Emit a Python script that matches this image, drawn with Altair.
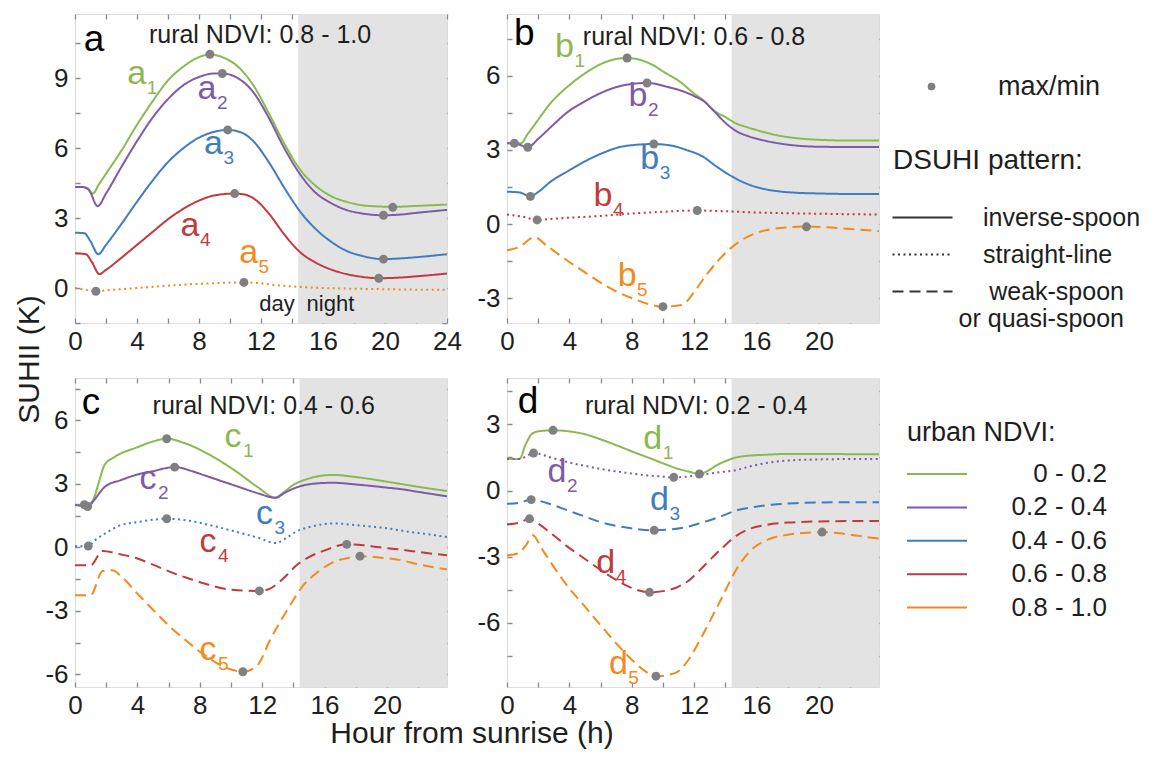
import altair as alt
import pandas as pd

FONT = "Liberation Sans"
INK = "#1e1e1e"
FRAME = "#8a8a8a"
DOT = "#808080"
SHADE = "#e3e3e3"

PW, PH = 372, 309
NIGHT_START = 14.4

NDVI_CLASSES = ["0 - 0.2", "0.2 - 0.4", "0.4 - 0.6", "0.6 - 0.8", "0.8 - 1.0"]
NDVI_COLORS = ["#8cb850", "#7d5ba6", "#3f7cc0", "#c2393e", "#f28a1c"]
PATTERNS = ["inverse-spoon", "straight-line", "weak-spoon or quasi-spoon"]
DASHES = [[1, 0], [2, 3.5], [11, 6]]
SOLID, DOTTED, DASHED = PATTERNS

# ---------------- panel a : rural NDVI 0.8 - 1.0 ----------------
a1_h = [0, 0.5, 0.8, 1.15, 1.5, 2, 3, 4, 5, 6, 7, 8, 8.7, 9.5, 10.5, 11.5, 12.5, 13.5, 14.5, 15.5, 16.5, 17.5, 18.5, 19.5, 20.5, 22, 24]
a1_v = [4.33, 4.33, 4.28, 4.05, 4.4, 4.9, 5.9, 7.0, 8.0, 8.9, 9.5, 9.9, 10.02, 9.9, 9.5, 8.7, 7.5, 6.2, 5.1, 4.4, 3.95, 3.7, 3.55, 3.5, 3.48, 3.52, 3.58]
a2_h = [0, 0.5, 0.9, 1.46, 2, 3, 4, 5, 6, 7, 8, 9, 9.5, 10.5, 11.5, 12.5, 13.5, 14.5, 15.5, 16.5, 17.5, 18.5, 19.9, 21, 22, 24]
a2_v = [4.33, 4.33, 4.2, 3.51, 4.05, 5.2, 6.3, 7.3, 8.1, 8.7, 9.05, 9.2, 9.2, 9.0, 8.4, 7.3, 6.0, 4.9, 4.1, 3.65, 3.35, 3.2, 3.12, 3.15, 3.22, 3.35]
a3_h = [0, 0.6, 1.0, 1.5, 2, 3, 4, 5, 6, 7, 8, 9, 9.85, 10.8, 11.5, 12.5, 13.5, 14.5, 15.5, 16.5, 17.5, 18.5, 19.9, 21, 22, 24]
a3_v = [2.37, 2.35, 2.0, 1.45, 1.85, 2.75, 3.7, 4.6, 5.4, 6.0, 6.45, 6.7, 6.78, 6.65, 6.3, 5.4, 4.3, 3.3, 2.55, 2.0, 1.6, 1.38, 1.24, 1.27, 1.32, 1.45]
a4_h = [0, 0.7, 1.1, 1.57, 2, 3, 4, 5, 6, 7, 8, 9, 10.3, 11, 11.8, 12.5, 13.5, 14.5, 15.5, 16.5, 17.5, 18.5, 19.6, 21, 22, 24]
a4_v = [1.49, 1.45, 1.1, 0.6, 0.78, 1.3, 1.85, 2.4, 2.95, 3.4, 3.75, 3.97, 4.05, 4.0, 3.7, 3.2, 2.3, 1.55, 1.1, 0.8, 0.6, 0.48, 0.42, 0.45, 0.5, 0.62]
a5_h = [0, 0.7, 1.35, 2, 4, 6, 8, 10.9, 12, 13, 14.5, 16, 18, 20, 22, 24]
a5_v = [0.0, -0.08, -0.14, -0.1, 0.0, 0.1, 0.18, 0.24, 0.2, 0.12, 0.05, 0.0, -0.03, -0.05, -0.07, -0.08]
a_pt_h = [8.7, 20.5, 9.5, 19.9, 9.85, 19.9, 10.3, 19.6, 1.35, 10.9]
a_pt_v = [10.02, 3.46, 9.2, 3.12, 6.78, 1.24, 4.05, 0.42, -0.14, 0.24]
a_lab_h = [3.98, 8.52, 8.94, 7.42, 11.2]
a_lab_v = [8.73, 8.09, 5.73, 2.23, 1.09]

# ---------------- panel b : rural NDVI 0.6 - 0.8 ----------------
b1_h = [0, 0.47, 0.9, 1.3, 1.8, 2.8, 3.9, 5, 6, 7, 7.7, 8.5, 9.3, 10.2, 11, 12, 12.6, 13.3, 14, 14.6, 15.5, 16.5, 17.5, 18.5, 20, 22, 23.85]
b1_v = [3.27, 3.27, 3.27, 3.62, 4.05, 4.9, 5.57, 6.1, 6.47, 6.68, 6.72, 6.65, 6.45, 6.1, 5.8, 5.28, 5.0, 4.58, 4.33, 4.1, 3.9, 3.72, 3.57, 3.48, 3.41, 3.38, 3.38]
b2_h = [0, 0.6, 1.33, 2, 2.8, 3.9, 5, 6, 7.5, 9, 10.3, 11.5, 12, 12.6, 13.3, 14, 14.6, 15.5, 16.5, 17.5, 18.5, 20, 22, 23.85]
b2_v = [3.27, 3.25, 3.11, 3.45, 3.92, 4.54, 4.97, 5.3, 5.62, 5.71, 5.55, 5.32, 5.18, 4.98, 4.55, 4.1, 3.8, 3.55, 3.38, 3.26, 3.18, 3.13, 3.12, 3.12]
b3_h = [0, 0.8, 1.5, 2, 2.8, 3.9, 5, 6, 7.5, 9.4, 10.5, 11.5, 12.5, 13.5, 14.5, 15.5, 16.5, 17.5, 18.5, 20, 22, 23.85]
b3_v = [1.31, 1.28, 1.12, 1.3, 1.72, 2.14, 2.54, 2.84, 3.15, 3.24, 3.18, 3.0, 2.75, 2.3, 1.9, 1.6, 1.42, 1.32, 1.27, 1.24, 1.22, 1.22]
b4_h = [0, 1, 1.93, 3, 4, 6, 8, 10, 12.2, 14, 16, 18, 20, 22, 23.85]
b4_v = [0.39, 0.3, 0.17, 0.22, 0.26, 0.33, 0.43, 0.5, 0.55, 0.52, 0.47, 0.44, 0.42, 0.4, 0.39]
b5_h = [0, 0.8, 1.76, 2.5, 3.9, 5, 6, 7, 8.2, 9, 10, 11.2, 12, 12.5, 13.5, 14.8, 15.8, 17, 18, 19.2, 20.5, 22, 23.85]
b5_v = [-1.06, -0.92, -0.52, -0.85, -1.49, -1.95, -2.37, -2.72, -3.04, -3.22, -3.34, -3.27, -2.75, -2.3, -1.5, -0.75, -0.4, -0.2, -0.13, -0.1, -0.13, -0.2, -0.28]
b_pt_h = [0.47, 7.7, 1.33, 8.98, 1.5, 9.41, 1.93, 12.2, 10.0, 19.2]
b_pt_v = [3.27, 6.72, 3.11, 5.71, 1.12, 3.24, 0.17, 0.55, -3.34, -0.11]
b_lab_h = [3.69, 8.4, 9.15, 6.15, 7.7]
b_lab_v = [6.78, 4.76, 2.21, 0.73, -2.5]

# ---------------- panel c : rural NDVI 0.4 - 0.6 ----------------
c1_h = [0, 0.8, 1.2, 1.5, 1.9, 2.5, 4, 5, 5.9, 7, 8.7, 10.4, 11.7, 12.85, 13.2, 14, 15, 16, 16.6, 18, 19, 20, 21, 22, 23.85]
c1_v = [2.01, 2.0, 2.3, 3.0, 3.9, 4.25, 4.73, 5.0, 5.13, 4.93, 4.34, 3.55, 2.85, 2.35, 2.5, 2.95, 3.25, 3.4, 3.42, 3.32, 3.22, 3.1, 2.98, 2.86, 2.66]
c2_h = [0, 0.8, 1.2, 1.5, 1.9, 3, 4, 5, 6.4, 7.5, 8.3, 10.4, 11.7, 12.85, 13.5, 14.5, 15.5, 16.5, 18, 19, 20, 21, 22, 23.85]
c2_v = [2.01, 1.93, 2.2, 2.5, 2.85, 3.19, 3.44, 3.6, 3.79, 3.6, 3.4, 2.88, 2.56, 2.34, 2.6, 2.9, 3.02, 3.05, 2.97, 2.9, 2.82, 2.74, 2.62, 2.41]
c3_h = [0, 0.85, 1.3, 1.9, 2.9, 4, 5, 5.9, 7.2, 8.7, 10.4, 11.7, 12.9, 13.5, 14.2, 15, 16, 16.6, 18, 19, 20, 21, 22, 23.85]
c3_v = [0.05, 0.06, 0.35, 0.64, 1.04, 1.19, 1.3, 1.35, 1.27, 1.04, 0.72, 0.46, 0.2, 0.42, 0.75, 0.95, 1.1, 1.13, 1.05, 0.98, 0.9, 0.78, 0.68, 0.49]
c4_h = [0, 1.0, 1.77, 2.9, 4, 5, 6.1, 7.2, 8.3, 10, 11.8, 12.5, 13, 13.6, 14.2, 15, 16, 17.4, 18.5, 19.5, 20.9, 22, 23.85]
c4_v = [-0.85, -0.85, -0.17, -0.33, -0.53, -0.82, -1.16, -1.45, -1.71, -2.0, -2.06, -1.95, -1.7, -1.3, -0.85, -0.46, -0.15, 0.14, 0.1, 0.0, -0.11, -0.22, -0.38]
c5_h = [0, 1.0, 1.77, 2.4, 3, 4, 5, 6.1, 7.2, 8.3, 9.8, 10.8, 11.7, 12.5, 13.6, 14.65, 15.5, 16.6, 17.5, 18.3, 19.5, 20.9, 22, 23.85]
c5_v = [-2.26, -2.26, -1.12, -1.08, -1.4, -2.19, -2.95, -3.76, -4.45, -5.09, -5.72, -5.88, -5.57, -4.39, -2.97, -1.79, -1.2, -0.69, -0.5, -0.42, -0.48, -0.61, -0.8, -1.05]
c_pt_h = [0.6, 5.88, 0.81, 6.39, 0.85, 5.88, 11.82, 17.42, 10.76, 18.27]
c_pt_v = [2.01, 5.13, 1.93, 3.79, 0.06, 1.35, -2.06, 0.14, -5.88, -0.42]
c_lab_h = [10.13, 4.68, 12.15, 8.53, 8.53]
c_lab_v = [4.73, 2.77, 1.12, -0.22, -5.33]

# ---------------- panel d : rural NDVI 0.2 - 0.4 ----------------
d1_h = [0, 0.8, 1.2, 1.65, 2.2, 2.95, 4, 5, 6, 7.1, 8.2, 9.3, 10.2, 11, 11.7, 12.35, 13, 13.4, 14, 14.7, 15.5, 16.5, 18, 20, 22, 23.85]
d1_v = [1.43, 1.43, 2.1, 2.6, 2.7, 2.73, 2.68, 2.55, 2.32, 2.03, 1.72, 1.43, 1.18, 0.98, 0.85, 0.75, 0.95, 1.13, 1.33, 1.5, 1.58, 1.62, 1.66, 1.66, 1.65, 1.65]
d2_h = [0, 0.8, 1.7, 2.8, 3.9, 5, 6, 7, 8.2, 9.5, 10.7, 11.5, 12.5, 13.5, 14.7, 15.5, 16.4, 17.5, 18.5, 20, 22, 23.85]
d2_v = [1.43, 1.43, 1.7, 1.5, 1.28, 1.12, 0.98, 0.87, 0.75, 0.66, 0.6, 0.63, 0.72, 0.82, 0.93, 1.08, 1.22, 1.33, 1.38, 1.41, 1.43, 1.43]
d3_h = [0, 0.8, 1.55, 2.5, 3.9, 5, 6, 7, 8.2, 9.4, 10.5, 11.5, 12.5, 13.6, 14.8, 15.8, 17, 18.5, 20, 22, 23.85]
d3_v = [-0.6, -0.55, -0.41, -0.55, -0.9, -1.18, -1.43, -1.6, -1.73, -1.8, -1.76, -1.65, -1.45, -1.2, -0.88, -0.75, -0.64, -0.57, -0.54, -0.53, -0.53]
d4_h = [0, 0.8, 1.45, 2, 2.85, 3.9, 5, 6, 7, 7.8, 9.15, 10.4, 11, 11.7, 12.3, 13, 13.8, 14.7, 15.5, 16.5, 18, 20, 22, 23.85]
d4_v = [-1.53, -1.45, -1.28, -1.5, -1.95, -2.55, -3.1, -3.6, -4.05, -4.35, -4.61, -4.5, -4.35, -4.05, -3.65, -3.15, -2.6, -2.05, -1.75, -1.57, -1.45, -1.4, -1.38, -1.38]
d5_h = [0, 0.7, 1.2, 1.66, 2.2, 2.85, 3.9, 5, 6, 7.1, 8.2, 9, 9.55, 10.8, 11.6, 12.5, 13.6, 14.9, 15.8, 16.8, 18, 19, 20.2, 21.5, 22.5, 23.85]
d5_v = [-2.93, -2.85, -2.5, -2.03, -2.6, -3.3, -4.35, -5.26, -6.1, -7.0, -7.8, -8.25, -8.41, -8.26, -7.7, -6.6, -5.1, -3.35, -2.6, -2.2, -2.0, -1.92, -1.88, -1.95, -2.05, -2.18]
d_pt_h = [2.95, 12.34, 1.7, 10.69, 1.55, 9.44, 1.44, 9.14, 9.55, 20.2]
d_pt_v = [2.73, 0.75, 1.7, 0.6, -0.41, -1.8, -1.28, -4.61, -8.41, -1.88]
d_lab_h = [9.34, 3.21, 9.77, 6.33, 7.14]
d_lab_v = [1.88, 0.37, -0.9, -3.75, -8.33]

# panel titles / letters (positions in data units)
TITLES = ["rural NDVI: 0.8 - 1.0", "rural NDVI: 0.6 - 0.8", "rural NDVI: 0.4 - 0.6", "rural NDVI: 0.2 - 0.4"]
title_h = [11.94, 11.99, 12.1, 12.13]
title_v = [10.51, 7.25, 6.31, 3.45]
letter_h = [1.23, 1.1, 1.02, 1.35]
letter_v = [10.16, 7.25, 6.31, 3.5]

X_MAX = [24, 23.85, 23.85, 23.85]
Y_DOM = [[-1.5, 11.75], [-4.0, 8.5], [-6.6, 8.0], [-8.9, 5.1]]
X_TICKS_A = [0, 2, 4, 6, 8, 10, 12, 14, 16, 18, 20, 22, 24]
X_TICKS = [0, 2, 4, 6, 8, 10, 12, 14, 16, 18, 20, 22]
Y_TICKS = [
    [-1.5, 0, 1.5, 3, 4.5, 6, 7.5, 9, 10.5],
    [-3, -1.5, 0, 1.5, 3, 4.5, 6, 7.5],
    [-6, -4.5, -3, -1.5, 0, 1.5, 3, 4.5, 6, 7.5],
    [-7.5, -6, -4.5, -3, -1.5, 0, 1.5, 3, 4.5],
]
DAYNIGHT_TXT = ["day", "night"]
DAYNIGHT_H = [13.03, 16.48]
DAYNIGHT_V = [-0.99, -0.99]

SERIES = {
    "a": [(a1_h, a1_v, SOLID), (a2_h, a2_v, SOLID), (a3_h, a3_v, SOLID), (a4_h, a4_v, SOLID), (a5_h, a5_v, DOTTED)],
    "b": [(b1_h, b1_v, SOLID), (b2_h, b2_v, SOLID), (b3_h, b3_v, SOLID), (b4_h, b4_v, DOTTED), (b5_h, b5_v, DASHED)],
    "c": [(c1_h, c1_v, SOLID), (c2_h, c2_v, SOLID), (c3_h, c3_v, DOTTED), (c4_h, c4_v, DASHED), (c5_h, c5_v, DASHED)],
    "d": [(d1_h, d1_v, SOLID), (d2_h, d2_v, DOTTED), (d3_h, d3_v, DASHED), (d4_h, d4_v, DASHED), (d5_h, d5_v, DASHED)],
}
POINTS = {"a": (a_pt_h, a_pt_v), "b": (b_pt_h, b_pt_v), "c": (c_pt_h, c_pt_v), "d": (d_pt_h, d_pt_v)}
LABELS = {"a": (a_lab_h, a_lab_v), "b": (b_lab_h, b_lab_v), "c": (c_lab_h, c_lab_v), "d": (d_lab_h, d_lab_v)}

# ---------------- legends (shared across panels) ----------------
TWO_LINE = "datum.value == 'weak-spoon or quasi-spoon'"
DASH_LABEL_EXPR = (
    "datum.label == 'weak-spoon or quasi-spoon' ? ['weak-spoon', 'or quasi-spoon'] : datum.label"
)

color_legend = alt.Legend(
    title="urban NDVI:", orient="none", legendX=832, legendY=406, padding=0,
    symbolType="M-1.3,0H4.7", symbolSize=400, symbolStrokeWidth=2,
    labelAlign="right", labelOffset=174, labelFontSize=26, labelFont=FONT, labelColor=INK,
    labelLimit=400, titleLimit=400,
    titleFontSize=27, titleFont=FONT, titleColor=INK, titleFontWeight="normal",
    titlePadding=14, rowPadding=7.4,
)
dash_legend = alt.Legend(
    title="DSUHI pattern:", orient="none", legendX=818, legendY=133, padding=0,
    symbolType="M-1.3,0H4.7", symbolSize=400, symbolStrokeWidth=2, symbolStrokeColor="#333333",
    labelAlign=alt.ExprRef(expr=TWO_LINE + " ? 'right' : 'left'"),
    labelOffset=alt.ExprRef(expr=TWO_LINE + " ? 206 : 65"),
    labelFontSize=25, labelFont=FONT, labelColor=INK,
    labelLimit=400, titleLimit=400, labelExpr=DASH_LABEL_EXPR,
    titleFontSize=28, titleFont=FONT, titleColor=INK, titleFontWeight="normal",
    titlePadding=30, rowPadding=11,
)
dot_legend = alt.Legend(
    title=None, orient="none", legendX=843, legendY=59, padding=0,
    symbolSize=60, symbolFillColor=DOT, symbolStrokeWidth=0,
    labelOffset=53, labelFontSize=27, labelFont=FONT, labelColor=INK, labelLimit=400,
)

color_scale = alt.Scale(domain=NDVI_CLASSES, range=NDVI_COLORS)
dash_scale = alt.Scale(domain=PATTERNS, range=DASHES)


def make_panel(i, key):
    xmax = X_MAX[i]
    xvals = X_TICKS_A if key == "a" else X_TICKS
    xkw = {"title": None}
    ykw = {"title": None}
    if key == "a":
        ykw = dict(title="SUHII (K)", titleX=-31, titleY=345, titleAngle=270, titleBaseline="bottom",
                   titleAlign="center", titleFontSize=30, titleFont=FONT, titleColor=INK, titleFontWeight="normal")
    if key == "c":
        xkw = dict(title="Hour from sunrise (h)", titleX=396.5, titleY=55, titleBaseline="alphabetic",
                   titleAlign="center", titleFontSize=30, titleFont=FONT, titleColor=INK, titleFontWeight="normal")
    xaxis = alt.Axis(values=xvals, labelExpr="datum.value % 4 == 0 ? toString(datum.value) : ''",
                     ticks=False, domain=False, grid=True, gridDash=[5, PH - 10, 5, 3000],
                     gridColor=FRAME, gridWidth=1.3, gridOpacity=1, labelFontSize=26, labelFont=FONT,
                     labelColor=INK, labelPadding=5, labelFlush=False, labelOverlap=False, **xkw)
    yaxis = alt.Axis(values=Y_TICKS[i], labelExpr="datum.value % 3 == 0 ? toString(datum.value) : ''",
                     ticks=False, domain=False, grid=True, gridDash=[5, PW - 10, 5, 3000],
                     gridColor=FRAME, gridWidth=1.3, gridOpacity=1, labelFontSize=26, labelFont=FONT,
                     labelColor=INK, labelPadding=7, labelOverlap=False, **ykw)
    xs = alt.Scale(domain=[0, xmax], nice=False, zero=False)
    ys = alt.Scale(domain=Y_DOM[i], nice=False, zero=False)
    X = alt.X("hour:Q", scale=xs, axis=xaxis)
    Y = alt.Y("value:Q", scale=ys, axis=yaxis)

    rows = []
    for k, (hs, vs, pat) in enumerate(SERIES[key]):
        for h, v in zip(hs, vs):
            rows.append(dict(series=f"{key}{k+1}", ndvi=NDVI_CLASSES[k], pattern=pat, hour=h, value=v))
    line_df = pd.DataFrame(rows)

    ph, pv = POINTS[key]
    pt_df = pd.DataFrame({"hour": ph, "value": pv, "kind": ["max/min"] * len(ph)})

    lh, lv = LABELS[key]
    lab_df = pd.DataFrame({"hour": lh, "value": lv, "letter": [key] * 5,
                           "sub": [str(k + 1) for k in range(5)], "col": NDVI_COLORS})

    shade_df = pd.DataFrame({"hour": [NIGHT_START], "hour_end": [xmax]})
    head_df = pd.DataFrame({"hour": [title_h[i]], "value": [title_v[i]], "txt": [TITLES[i]]})
    let_df = pd.DataFrame({"hour": [letter_h[i]], "value": [letter_v[i]], "txt": [key]})

    shade = alt.Chart(shade_df).mark_rect(color=SHADE).encode(x=X, x2="hour_end:Q")
    lines = alt.Chart(line_df).mark_line(strokeWidth=2, interpolate="monotone", clip=True).encode(
        x=X, y=Y,
        color=alt.Color("ndvi:N", scale=color_scale, legend=color_legend),
        strokeDash=alt.StrokeDash("pattern:N", scale=dash_scale, legend=dash_legend),
        detail="series:N",
    )
    pts = alt.Chart(pt_df).mark_point(filled=True, size=80, color=DOT, opacity=1).encode(
        x=X, y=Y,
        shape=alt.Shape("kind:N", scale=alt.Scale(domain=["max/min"], range=["circle"]), legend=dot_legend),
    )
    letters = alt.Chart(lab_df).mark_text(font=FONT, fontSize=34, align="center", baseline="alphabetic").encode(
        x=X, y=Y, text="letter:N", color=alt.Color("col:N", scale=None))
    subs = alt.Chart(lab_df).mark_text(font=FONT, fontSize=19, align="left", baseline="alphabetic",
                                       dx=10, dy=10).encode(
        x=X, y=Y, text="sub:N", color=alt.Color("col:N", scale=None))
    head = alt.Chart(head_df).mark_text(font=FONT, fontSize=25, align="center", baseline="alphabetic",
                                        color=INK).encode(x=X, y=Y, text="txt:N")
    letter = alt.Chart(let_df).mark_text(font=FONT, fontSize=37, align="center", baseline="alphabetic",
                                         color="#000000").encode(x=X, y=Y, text="txt:N")
    layers = [shade, lines, pts, letters, subs, head, letter]
    if key == "a":
        dn_df = pd.DataFrame({"hour": DAYNIGHT_H, "value": DAYNIGHT_V, "txt": DAYNIGHT_TXT})
        layers.append(alt.Chart(dn_df).mark_text(font=FONT, fontSize=22, align="center",
                                                 baseline="alphabetic", color=INK).encode(x=X, y=Y, text="txt:N"))
    return alt.layer(*layers).properties(width=PW, height=PH)


panels = [make_panel(i, k) for i, k in enumerate(["a", "b", "c", "d"])]

chart = alt.ConcatChart(
    concat=panels, columns=2, spacing={"row": 55, "column": 60}, bounds="flush",
    padding={"left": 5, "top": 5, "right": 0, "bottom": 0},
).configure_view(stroke=FRAME, strokeWidth=1.5).configure(font=FONT, background="white")

chart.save("out.html", embed_options={"renderer": "svg", "actions": False})
